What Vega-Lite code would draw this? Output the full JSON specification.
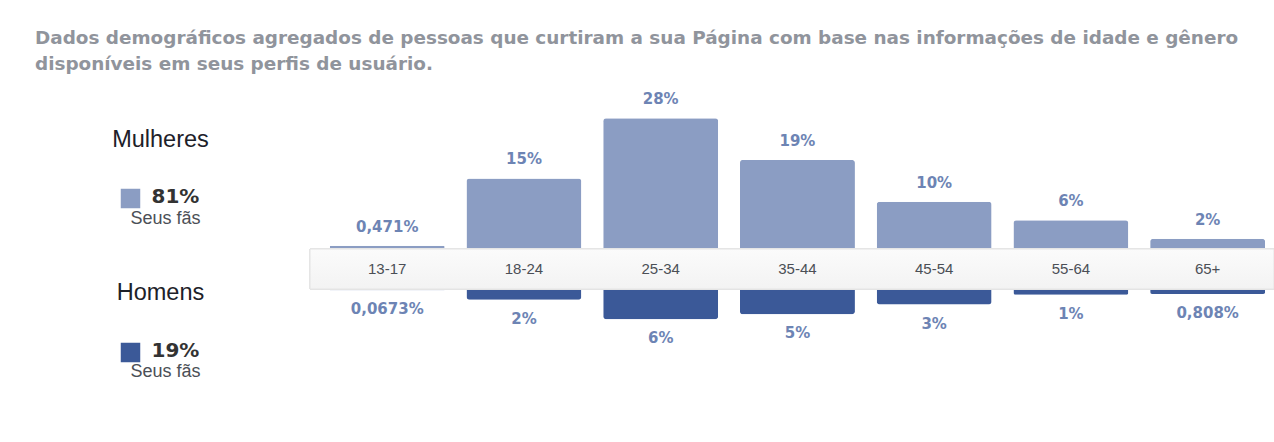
{
  "$schema": "https://vega.github.io/schema/vega-lite/v6.json",
  "background": "white",
  "padding": {"left": 35, "top": 29, "right": 0, "bottom": 0},
  "bounds": "flush",
  "title": {
    "text": ["Dados demográficos agregados de pessoas que curtiram a sua Página com base nas informações de idade e gênero", "disponíveis em seus perfis de usuário."],
    "anchor": "start",
    "font": "DejaVu Sans",
    "fontSize": 18.4,
    "fontWeight": "bold",
    "color": "#90949c",
    "lineHeight": 25.5,
    "offset": 16
  },
  "datasets": {
    "idades": [
      {"faixa": "13-17", "mulheres": 0.471, "homens": 0.0673, "rot_m": "0,471%", "rot_h": "0,0673%"},
      {"faixa": "18-24", "mulheres": 15, "homens": 2, "rot_m": "15%", "rot_h": "2%"},
      {"faixa": "25-34", "mulheres": 28, "homens": 6, "rot_m": "28%", "rot_h": "6%"},
      {"faixa": "35-44", "mulheres": 19, "homens": 5, "rot_m": "19%", "rot_h": "5%"},
      {"faixa": "45-54", "mulheres": 10, "homens": 3, "rot_m": "10%", "rot_h": "3%"},
      {"faixa": "55-64", "mulheres": 6, "homens": 1, "rot_m": "6%", "rot_h": "1%"},
      {"faixa": "65+", "mulheres": 2, "homens": 0.808, "rot_m": "2%", "rot_h": "0,808%"}
    ],
    "generos": [
      {"genero": "Mulheres", "pct": "81%"},
      {"genero": "Homens", "pct": "19%"}
    ]
  },
  "config": {"view": {"stroke": null}},
  "hconcat": [
    {
      "width": 275,
      "height": 299,
      "data": {"name": "generos"},
      "encoding": {
        "y": {"field": "genero", "type": "nominal", "axis": null,
              "scale": {"type": "point", "domain": ["Mulheres", "Homens"], "padding": 0.4708, "align": 0.5}}
      },
      "layer": [
        {
          "mark": {"type": "text", "font": "Liberation Sans", "fontSize": 23.5, "color": "#1d2129", "dx": -12, "dy": -22, "baseline": "middle", "align": "center"},
          "encoding": {"text": {"field": "genero"}}
        },
        {
          "mark": {"type": "point", "shape": "square", "filled": true, "size": 380, "opacity": 1},
          "encoding": {
            "color": {"field": "genero", "type": "nominal", "legend": null,
                      "scale": {"domain": ["Mulheres", "Homens"], "range": ["#8b9dc3", "#3b5998"]}},
            "xOffset": {"value": -42},
            "yOffset": {"value": 37}
          }
        },
        {
          "mark": {"type": "text", "font": "DejaVu Sans", "fontWeight": "bold", "fontSize": 20, "color": "#333333", "align": "left", "dx": -21, "dy": 35.5, "baseline": "middle"},
          "encoding": {"text": {"field": "pct"}}
        },
        {
          "mark": {"type": "text", "font": "Liberation Sans", "fontSize": 18, "color": "#4b4f56", "align": "center", "dx": -7, "dy": 57, "baseline": "middle"},
          "encoding": {"text": {"value": "Seus fãs"}}
        }
      ]
    },
    {
      "spacing": 0,
      "vconcat": [
        {
          "width": 964,
          "height": 159,
          "data": {"name": "idades"},
          "encoding": {
            "x": {"field": "faixa", "type": "nominal", "axis": null, "sort": null,
                  "scale": {"type": "band", "paddingInner": 0.159, "paddingOuter": 0.1045, "align": 0.69}},
            "y": {"field": "mulheres", "type": "quantitative", "axis": null, "scale": {"domain": [0, 34.3]}}
          },
          "layer": [
            {"mark": {"type": "bar", "color": "#8b9dc3", "cornerRadiusTopLeft": 3, "cornerRadiusTopRight": 3}},
            {"mark": {"type": "text", "font": "DejaVu Sans", "fontWeight": "bold", "fontSize": 15, "color": "#6d84b4", "dy": -19, "baseline": "middle"},
             "encoding": {"text": {"field": "rot_m"}}}
          ]
        },
        {
          "width": 964,
          "height": 40,
          "data": {"name": "idades"},
          "layer": [
            {"mark": {"type": "rect", "stroke": "#e4e4e4", "strokeWidth": 1,
                      "color": {"gradient": "linear", "x1": 0, "y1": 0, "x2": 0, "y2": 1,
                                "stops": [{"offset": 0, "color": "#fbfbfb"}, {"offset": 1, "color": "#f3f3f3"}]}},
             "encoding": {}},
            {"mark": {"type": "text", "font": "Liberation Sans", "fontSize": 15, "color": "#4b4f56", "baseline": "middle"},
             "encoding": {
               "x": {"field": "faixa", "type": "nominal", "axis": null, "sort": null,
                     "scale": {"type": "band", "paddingInner": 0.159, "paddingOuter": 0.1045, "align": 0.69}},
               "text": {"field": "faixa"}
             }}
          ]
        },
        {
          "width": 964,
          "height": 100,
          "data": {"name": "idades"},
          "encoding": {
            "x": {"field": "faixa", "type": "nominal", "axis": null, "sort": null,
                  "scale": {"type": "band", "paddingInner": 0.159, "paddingOuter": 0.1045, "align": 0.69}},
            "y": {"field": "homens", "type": "quantitative", "axis": null, "scale": {"domain": [0, 20.6], "reverse": true}}
          },
          "layer": [
            {"mark": {"type": "bar", "color": "#3b5998", "cornerRadiusBottomLeft": 3, "cornerRadiusBottomRight": 3}},
            {"mark": {"type": "text", "font": "DejaVu Sans", "fontWeight": "bold", "fontSize": 15, "color": "#6d84b4", "dy": 19, "baseline": "middle"},
             "encoding": {"text": {"field": "rot_h"}}}
          ]
        }
      ]
    }
  ],
  "spacing": 0
}
